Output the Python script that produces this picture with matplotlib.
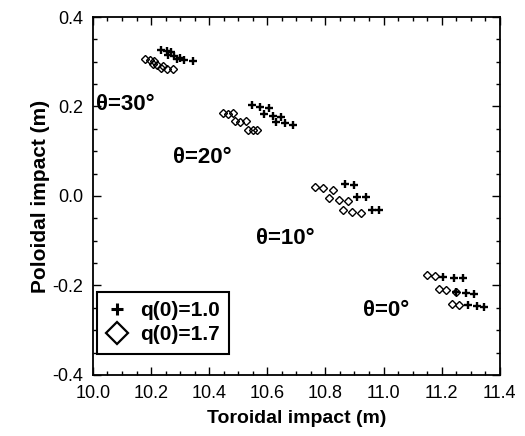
import matplotlib
matplotlib.use('Agg')
import matplotlib.pyplot as plt
from matplotlib.lines import Line2D
from matplotlib.ticker import MultipleLocator

plt.rcParams['font.family'] = ['Liberation Sans', 'DejaVu Sans']

# q(0)=1.0 impacts (toroidal, poloidal), grouped by launch angle
q10_x = [11.206, 11.244, 11.275, 11.250, 11.285, 11.310, 11.290, 11.320, 11.347,
         10.866, 10.897, 10.910, 10.940, 10.960, 10.986,
         10.546, 10.574, 10.605, 10.588, 10.619, 10.646, 10.629, 10.660, 10.690,
         10.235, 10.255, 10.270, 10.260, 10.280, 10.300, 10.290, 10.315, 10.345]
q10_y = [-0.180, -0.183, -0.183, -0.215, -0.216, -0.219, -0.243, -0.245, -0.247,
         0.027, 0.025, -0.002, -0.002, -0.031, -0.031,
         0.203, 0.198, 0.196, 0.183, 0.179, 0.176, 0.166, 0.163, 0.159,
         0.326, 0.324, 0.322, 0.316, 0.313, 0.309, 0.306, 0.304, 0.302]

# q(0)=1.7 impacts
q17_x = [11.148, 11.178, 11.192, 11.216, 11.250, 11.237, 11.260,
         10.763, 10.790, 10.825, 10.814, 10.845, 10.876, 10.860, 10.893, 10.924,
         10.447, 10.464, 10.481, 10.488, 10.505, 10.526, 10.533, 10.550, 10.564,
         10.180, 10.195, 10.210, 10.205, 10.222, 10.240, 10.235, 10.255, 10.275]
q17_y = [-0.177, -0.178, -0.208, -0.210, -0.215, -0.241, -0.243,
         0.020, 0.017, 0.013, -0.005, -0.008, -0.011, -0.031, -0.035, -0.038,
         0.185, 0.183, 0.185, 0.168, 0.166, 0.168, 0.147, 0.147, 0.147,
         0.306, 0.303, 0.302, 0.296, 0.292, 0.290, 0.285, 0.283, 0.283]

angle_labels = ['θ=30°', 'θ=20°', 'θ=10°', 'θ=0°']
label_x = [10.012, 10.275, 10.56, 10.928]
label_y = [0.205, 0.085, -0.094, -0.255]

fig = plt.figure(figsize=(5.25, 4.36), dpi=100)
ax = fig.add_axes([0.177, 0.140, 0.775, 0.821])

ax.plot(q10_x, q10_y, linestyle='none', marker='+', markersize=6,
        markeredgewidth=1.7, color='black')
ax.plot(q17_x, q17_y, linestyle='none', marker='D', markersize=4.5,
        markeredgewidth=1.0, markerfacecolor='none', color='black')

for lab, x, y in zip(angle_labels, label_x, label_y):
    ax.text(x, y, lab, fontsize=16, fontweight='bold', ha='left', va='center')

ax.set_xlim(10.0, 11.4)
ax.set_ylim(-0.4, 0.4)
ax.xaxis.set_major_locator(MultipleLocator(0.2))
ax.xaxis.set_minor_locator(MultipleLocator(0.05))
ax.yaxis.set_major_locator(MultipleLocator(0.2))
ax.yaxis.set_minor_locator(MultipleLocator(0.05))
ax.xaxis.set_major_formatter(matplotlib.ticker.FormatStrFormatter('%.1f'))
ax.yaxis.set_major_formatter(matplotlib.ticker.FormatStrFormatter('%.1f'))
ax.tick_params(which='both', direction='in', top=True, right=True, width=1)
ax.tick_params(which='major', length=6, labelsize=13, pad=7)
ax.tick_params(which='minor', length=3)
for s in ax.spines.values():
    s.set_linewidth(1.3)

ax.set_xlabel('Toroidal impact (m)', fontsize=14, fontweight='bold', labelpad=6)
ax.set_ylabel('Poloidal impact (m)', fontsize=15, fontweight='bold', labelpad=2)

handles = [Line2D([], [], linestyle='none', marker='+', markersize=8, markeredgewidth=2.2, color='black'),
           Line2D([], [], linestyle='none', marker='D', markersize=11, markeredgewidth=1.6,
                  markerfacecolor='none', color='black')]
leg = ax.legend(handles, ['q(0)=1.0', 'q(0)=1.7'], loc='lower left',
                bbox_to_anchor=(0.01, 0.059), borderaxespad=0,
                prop={'size': 15, 'weight': 'bold'},
                fancybox=False, framealpha=1, edgecolor='black', handlelength=1.0,
                handletextpad=0.6, borderpad=0.45, labelspacing=0.25)
leg.get_frame().set_linewidth(1.5)

fig.savefig('out.png', dpi=100)
